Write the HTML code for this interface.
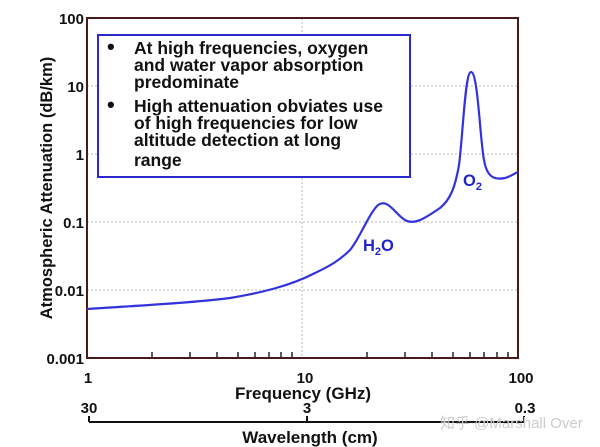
<!DOCTYPE html><html><head><style>body{margin:0;background:#fff}svg{display:block}text{font-family:"Liberation Sans",Arial,sans-serif;font-weight:bold}</style></head><body>
<svg width="600" height="447" viewBox="0 0 600 447">
<g stroke="#bbb" stroke-width="1" stroke-dasharray="2,2">
<line x1="87" y1="86" x2="518" y2="86"/><line x1="87" y1="154" x2="518" y2="154"/><line x1="87" y1="222" x2="518" y2="222"/><line x1="87" y1="290" x2="518" y2="290"/><line x1="302" y1="18" x2="302" y2="358"/>
</g>
<rect x="87" y="18" width="431" height="340" fill="none" stroke="#4a1a1a" stroke-width="2"/>
<g stroke="#222" stroke-width="1.5">
<line x1="152" y1="358" x2="152" y2="352"/><line x1="190" y1="358" x2="190" y2="352"/><line x1="217" y1="358" x2="217" y2="352"/><line x1="238" y1="358" x2="238" y2="352"/><line x1="255" y1="358" x2="255" y2="352"/><line x1="269" y1="358" x2="269" y2="352"/><line x1="281" y1="358" x2="281" y2="352"/><line x1="292" y1="358" x2="292" y2="352"/>
<line x1="367" y1="358" x2="367" y2="352"/><line x1="405" y1="358" x2="405" y2="352"/><line x1="432" y1="358" x2="432" y2="352"/><line x1="453" y1="358" x2="453" y2="352"/><line x1="470" y1="358" x2="470" y2="352"/><line x1="484" y1="358" x2="484" y2="352"/><line x1="497" y1="358" x2="497" y2="352"/><line x1="508" y1="358" x2="508" y2="352"/>
</g>
<g font-size="15" text-anchor="end" fill="#111">
<text x="84" y="24">100</text><text x="84" y="92">10</text><text x="84" y="160">1</text><text x="84" y="228">0.1</text><text x="84" y="296">0.01</text><text x="84" y="364">0.001</text></g>
<g font-size="15" text-anchor="middle" fill="#111">
<text x="88" y="383">1</text><text x="305" y="383">10</text><text x="521" y="383">100</text>
<text x="303" y="399" font-size="17">Frequency (GHz)</text>
<text x="89" y="413">30</text><text x="307" y="413">3</text><text x="525" y="413">0.3</text>
<text x="310" y="443" font-size="17">Wavelength (cm)</text></g>
<g stroke="#111" stroke-width="2"><line x1="89" y1="422" x2="524" y2="422"/><line x1="89" y1="416" x2="89" y2="422"/><line x1="307" y1="416" x2="307" y2="422"/><line x1="524" y1="416" x2="524" y2="422"/></g>
<text transform="translate(52,188) rotate(-90)" font-size="16.5" text-anchor="middle" fill="#111">Atmospheric Attenuation (dB/km)</text>
<rect x="98" y="35" width="312" height="142" fill="#fff" stroke="#2a2acc" stroke-width="2"/>
<g font-size="17.5" fill="#111">
<text x="107" y="54" font-size="22">•</text><text x="134" y="54">At high frequencies, oxygen</text><text x="134" y="71">and water vapor absorption</text><text x="134" y="88">predominate</text>
<text x="107" y="112" font-size="22">•</text><text x="134" y="112">High attenuation obviates use</text><text x="134" y="129">of high frequencies for low</text><text x="134" y="146">altitude detection at long</text><text x="134" y="166">range</text></g>
<path d="M87,309 C150,305 200,302 230,298 C260,293 290,286 315,273 C330,266 340,260 350,250 C360,238 368,215 378,205 C388,198 395,214 405,220 C415,226 428,216 440,208 C450,200 455,188 459,165 C463,135 465,72 471,72 C478,72 480,140 484,160 C487,178 495,180 505,178 C512,176 515,173 518,172" fill="none" stroke="#3333dd" stroke-width="2.2"/>
<text x="363" y="251" font-size="16.5" fill="#2222cc">H<tspan font-size="11" dy="4">2</tspan><tspan dy="-4">O</tspan></text>
<text x="463" y="186" font-size="16.5" fill="#2222cc">O<tspan font-size="11" dy="4">2</tspan></text>
<text x="440" y="428" font-size="15" fill="#ccc" style="font-weight:normal">知乎 @Marshall Over</text>
</svg></body></html>
